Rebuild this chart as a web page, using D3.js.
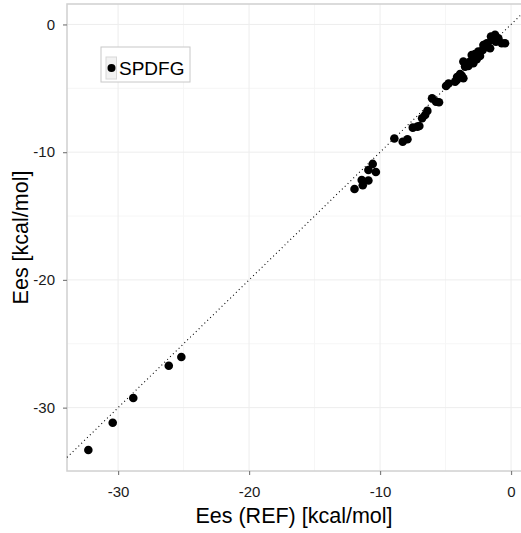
<!DOCTYPE html>
<html>
<head>
<meta charset="utf-8">
<script src="https://cdn.jsdelivr.net/npm/d3@7"></script>
<style>
  body { margin: 0; background: #fff; }
  svg { display: block; font-family: "Liberation Sans", Arial, sans-serif; }
</style>
</head>
<body>
<svg id="chart" width="521" height="533"></svg>
<script>
// reference energies (x) and SPDFG energies (y), kcal/mol
const refEnergy = [
  -32.27, -30.41, -28.84, -26.13, -25.17,
  -11.95, -11.32, -11.40, -10.89, -10.89, -10.32, -10.56,
  -8.91, -8.27, -7.91, -7.50, -7.15, -7.00, -6.79, -6.56, -6.39,
  -6.03, -5.73, -5.50, -4.96, -4.77, -4.27, -4.12, -3.89, -3.64,
  -4.14, -3.76, -3.64, -3.44, -3.26, -3.13, -3.00, -2.88, -2.88,
  -2.62, -2.50, -2.37, -2.16, -2.11, -1.85, -1.85, -1.60, -1.53,
  -1.47, -1.22, -1.15, -0.97, -0.71, -0.46, -3.51, -2.75, -2.50
];
const spdfgEnergy = [
  -33.32, -31.18, -29.25, -26.72, -26.04,
  -12.88, -12.59, -12.18, -12.22, -11.39, -11.55, -10.92,
  -8.93, -9.18, -8.99, -8.08, -8.00, -7.95, -7.35, -7.09, -6.77,
  -5.78, -6.04, -6.09, -4.82, -4.62, -4.48, -4.11, -3.88, -4.21,
  -4.35, -4.03, -2.91, -3.17, -3.25, -2.91, -2.39, -2.65, -3.04,
  -2.73, -2.26, -2.47, -1.99, -1.61, -1.74, -1.47, -1.86, -0.95,
  -1.21, -0.82, -1.35, -1.08, -1.47, -1.47, -3.30, -2.31, -2.13
];
const majorTicks = [-30, -20, -10, 0];
const minorTicks = [-35, -25, -15, -5];
const seriesName = "SPDFG";

const points = refEnergy.map((x, i) => ({ x: x, y: spdfgEnergy[i] }));

const svg = d3.select("#chart");
const panel = { left: 67, top: 4, right: 521, bottom: 471 };

const x = d3.scaleLinear().domain([-33.9, 0.76]).range([panel.left, panel.right]);
const y = d3.scaleLinear().domain([-34.96, 1.6]).range([panel.bottom, panel.top]);

const grid = svg.append("g").attr("class", "grid");

grid.selectAll("line.vminor")
    .data(minorTicks.filter(t => t > x.domain()[0]))
    .enter().append("line")
      .attr("x1", d => x(d)).attr("x2", d => x(d))
      .attr("y1", panel.top).attr("y2", panel.bottom)
      .style("stroke", "#f6f6f6");

grid.selectAll("line.hminor")
    .data(minorTicks.filter(t => t > y.domain()[0]))
    .enter().append("line")
      .attr("x1", panel.left).attr("x2", panel.right)
      .attr("y1", d => y(d)).attr("y2", d => y(d))
      .style("stroke", "#f6f6f6");

grid.selectAll("line.vmajor")
    .data(majorTicks)
    .enter().append("line")
      .attr("x1", d => x(d)).attr("x2", d => x(d))
      .attr("y1", panel.top).attr("y2", panel.bottom)
      .style("stroke", "#ededed");

grid.selectAll("line.hmajor")
    .data(majorTicks)
    .enter().append("line")
      .attr("x1", panel.left).attr("x2", panel.right)
      .attr("y1", d => y(d)).attr("y2", d => y(d))
      .style("stroke", "#ededed");

// panel border
svg.append("rect")
    .attr("x", panel.left).attr("y", panel.top)
    .attr("width", panel.right - panel.left + 10)
    .attr("height", panel.bottom - panel.top)
    .style("fill", "none")
    .style("stroke", "#d0d0d0")
    .style("stroke-width", 1.5);

// identity line
const lo = Math.max(x.domain()[0], y.domain()[0]);
const hi = Math.min(x.domain()[1], y.domain()[1]);
svg.append("line")
    .attr("x1", x(lo)).attr("y1", y(lo))
    .attr("x2", x(hi)).attr("y2", y(hi))
    .style("stroke", "#000")
    .style("stroke-width", 1.1)
    .style("stroke-dasharray", "1,3");

const fmt = d => String(d);
const xAxis = svg.append("g")
    .attr("transform", `translate(0,${panel.bottom})`)
    .call(d3.axisBottom(x).tickValues(majorTicks).tickSize(4).tickPadding(11).tickFormat(fmt));
const yAxis = svg.append("g")
    .attr("transform", `translate(${panel.left},0)`)
    .call(d3.axisLeft(y).tickValues(majorTicks).tickSize(4).tickPadding(8).tickFormat(fmt));

[xAxis, yAxis].forEach(a => {
  a.select(".domain").remove();
  a.selectAll(".tick line").style("stroke", "#7f7f7f").style("stroke-width", 1.2);
  a.selectAll(".tick text")
      .style("font-size", "15px")
      .style("fill", "#1a1a1a")
      .style("font-family", "'Liberation Sans', Arial, sans-serif");
});

svg.append("g").attr("class", "points")
  .selectAll("circle")
  .data(points)
  .enter().append("circle")
    .attr("cx", d => x(d.x))
    .attr("cy", d => y(d.y))
    .attr("r", 4.3)
    .style("fill", "#000");

svg.append("text")
    .attr("x", (panel.left + panel.right) / 2)
    .attr("y", 523)
    .attr("text-anchor", "middle")
    .style("font-size", "21.5px")
    .text("Ees (REF) [kcal/mol]");

svg.append("text")
    .attr("transform", `translate(28,${(panel.top + panel.bottom) / 2}) rotate(-90)`)
    .attr("text-anchor", "middle")
    .style("font-size", "21.5px")
    .text("Ees [kcal/mol]");

// legend
const legend = svg.append("g").attr("transform", "translate(101,47)");
legend.append("rect")
    .attr("width", 89).attr("height", 35)
    .style("fill", "#fff")
    .style("stroke", "#c8c8c8");
legend.append("rect")
    .attr("x", 5).attr("y", 10).attr("width", 10.5).attr("height", 22)
    .style("fill", "#f2f2f2")
    .style("stroke", "#d8d8d8");
legend.append("circle")
    .attr("cx", 10.5).attr("cy", 21).attr("r", 4)
    .style("fill", "#000");
legend.append("text")
    .attr("x", 18).attr("y", 28)
    .style("font-size", "19px")
    .text(seriesName);
</script>
</body>
</html>
